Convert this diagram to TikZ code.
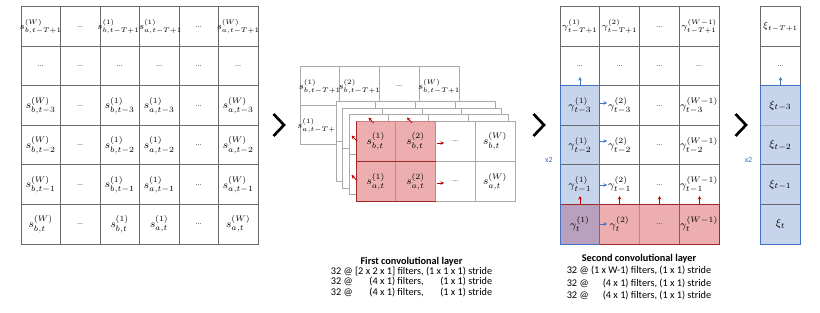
\documentclass[tikz,border=0pt]{standalone}
\usepackage[no-math]{fontspec}
\setmainfont{Carlito}
\usetikzlibrary{arrows.meta}

\definecolor{gridline}{RGB}{105,105,105}
\definecolor{sheetgray}{RGB}{170,170,170}
\definecolor{dotgray}{RGB}{90,90,90}
\definecolor{pinkfill}{RGB}{236,174,174}
\definecolor{pinkline}{RGB}{205,130,130}
\definecolor{darkred}{RGB}{160,40,40}
\definecolor{arrowred}{RGB}{192,0,0}
\definecolor{bluefill}{RGB}{198,212,236}
\definecolor{blueline}{RGB}{68,114,196}
\definecolor{purplefill}{RGB}{184,160,190}

\tikzset{every picture/.style={line width=0.75pt}}
\tikzset{
  cellmath/.style={inner sep=0.75pt, font=\fontsize{8.5}{9.5}\selectfont},
  celllong/.style={inner sep=0pt, font=\fontsize{7.2}{8}\selectfont},
  celldots/.style={inner sep=0.75pt, font=\fontsize{6}{7}\selectfont, text=dotgray},
  redtip/.style={draw=arrowred, line width=0.6pt, -{Stealth[length=2.6pt,width=2.6pt]}},
  bluetip/.style={draw=blueline, line width=0.6pt, -{Stealth[length=2.6pt,width=2.6pt]}},
  chevron/.style={line width=2pt, miter limit=10},
  repeatlabel/.style={inner sep=0.75pt, font=\fontsize{6}{7}\selectfont, text=blueline},
}

\begin{document}
\begin{tikzpicture}[x=0.75pt,y=0.75pt,yscale=-1,xscale=1]
		\useasboundingbox (0,0) rectangle (820,313);
		
		%Shape: Grid [input]
		\draw [color=gridline] (21,7) rectangle (258,244) ;
		\draw [color=gridline] (60.5,7) -- (60.5,244) (100,7) -- (100,244) (139.5,7) -- (139.5,244) (179,7) -- (179,244) (218.5,7) -- (218.5,244) ;
		\draw [color=gridline] (21,46.5) -- (258,46.5) (21,86) -- (258,86) (21,125.5) -- (258,125.5) (21,165) -- (258,165) (21,204.5) -- (258,204.5) ;
		
		% Text Node
		\draw (40.75,26.75) node [celllong] (in11) {$s_{b,t-T+1}^{(W)}$};
		\draw (80.25,26.75) node [celldots] (in12) {…};
		\draw (118.5,26.75) node [celllong] (in13) {$s_{b,t-T+1}^{(1)}$};
		\draw (160.5,26.75) node [celllong] (in14) {$s_{a,t-T+1}^{(1)}$};
		\draw (198.75,26.75) node [celldots] (in15) {…};
		\draw (238.25,26.75) node [celllong] (in16) {$s_{a,t-T+1}^{(W)}$};
		% Text Node
		\draw (40.75,66.25) node [celldots] (in21) {…};
		\draw (80.25,66.25) node [celldots] (in22) {…};
		\draw (119.75,66.25) node [celldots] (in23) {…};
		\draw (159.25,66.25) node [celldots] (in24) {…};
		\draw (198.75,66.25) node [celldots] (in25) {…};
		\draw (238.25,66.25) node [celldots] (in26) {…};
		% Text Node
		\draw (40.75,105.75) node [cellmath] (in31) {$s_{b,t-3}^{(W)}$};
		\draw (80.25,105.75) node [celldots] (in32) {…};
		\draw (119.75,105.75) node [cellmath] (in33) {$s_{b,t-3}^{(1)}$};
		\draw (159.25,105.75) node [cellmath] (in34) {$s_{a,t-3}^{(1)}$};
		\draw (198.75,105.75) node [celldots] (in35) {…};
		\draw (238.25,105.75) node [cellmath] (in36) {$s_{a,t-3}^{(W)}$};
		% Text Node
		\draw (40.75,145.25) node [cellmath] (in41) {$s_{b,t-2}^{(W)}$};
		\draw (80.25,145.25) node [celldots] (in42) {…};
		\draw (119.75,145.25) node [cellmath] (in43) {$s_{b,t-2}^{(1)}$};
		\draw (159.25,145.25) node [cellmath] (in44) {$s_{a,t-2}^{(1)}$};
		\draw (198.75,145.25) node [celldots] (in45) {…};
		\draw (238.25,145.25) node [cellmath] (in46) {$s_{a,t-2}^{(W)}$};
		% Text Node
		\draw (40.75,184.75) node [cellmath] (in51) {$s_{b,t-1}^{(W)}$};
		\draw (80.25,184.75) node [celldots] (in52) {…};
		\draw (119.75,184.75) node [cellmath] (in53) {$s_{b,t-1}^{(1)}$};
		\draw (159.25,184.75) node [cellmath] (in54) {$s_{a,t-1}^{(1)}$};
		\draw (198.75,184.75) node [celldots] (in55) {…};
		\draw (238.25,184.75) node [cellmath] (in56) {$s_{a,t-1}^{(W)}$};
		% Text Node
		\draw (40.75,224.25) node [cellmath] (in61) {$s_{b,t}^{(W)}$};
		\draw (80.25,224.25) node [celldots] (in62) {…};
		\draw (119.75,224.25) node [cellmath] (in63) {$s_{b,t}^{(1)}$};
		\draw (159.25,224.25) node [cellmath] (in64) {$s_{a,t}^{(1)}$};
		\draw (198.75,224.25) node [celldots] (in65) {…};
		\draw (238.25,224.25) node [cellmath] (in66) {$s_{a,t}^{(W)}$};
		
		%Shape: Chevron
		\draw [chevron] (273.5,114) -- (284,125) -- (273.5,136) ;
		
		%Shape: Rectangle [back sheet]
		\draw [color=sheetgray, fill=white] (300,67) rectangle (459,145) ;
		\draw [color=sheetgray] (339.75,67) -- (339.75,145) (379.5,67) -- (379.5,145) (419.25,67) -- (419.25,145) (300,106) -- (459,106) ;
		% Text Node
		\draw (319.9,86.5) node [celllong] (bk11) {$s_{b,t-T+1}^{(1)}$};
		\draw (359.6,86.5) node [celllong] (bk12) {$s_{b,t-T+1}^{(2)}$};
		\draw (399.4,86.5) node [celldots] (bk13) {…};
		\draw (439.1,86.5) node [celllong] (bk14) {$s_{b,t-T+1}^{(W)}$};
		\draw (318.9,125.5) node [celllong] (bk21) {$s_{a,t-T+1}^{(1)}$};
		
		%Shape: Rectangle [middle sheets]
		\draw [color=sheetgray, fill=white] (336,102) rectangle (495,182) ;
		\draw [color=sheetgray] (375.75,102) -- (375.75,182) (415.5,102) -- (415.5,182) (455.25,102) -- (455.25,182) (336,142) -- (495,142) ;
		\draw [color=sheetgray, fill=white] (342.5,108.5) rectangle (501.5,188.5) ;
		\draw [color=sheetgray] (382.25,108.5) -- (382.25,188.5) (422,108.5) -- (422,188.5) (461.75,108.5) -- (461.75,188.5) (342.5,148.5) -- (501.5,148.5) ;
		\draw [color=sheetgray, fill=white] (349,115) rectangle (508,195) ;
		\draw [color=sheetgray] (388.75,115) -- (388.75,195) (428.5,115) -- (428.5,195) (468.25,115) -- (468.25,195) (349,155) -- (508,155) ;
		
		%Shape: Rectangle [front sheet]
		\draw [color=sheetgray, fill=white] (356,121.5) rectangle (515,201.5) ;
		\draw [color=sheetgray] (475.25,121.5) -- (475.25,201.5) (435.5,161.5) -- (515,161.5) ;
		\draw [color=pinkline, fill=pinkfill] (356,121.5) rectangle (435.5,201.5) ;
		\draw [color=pinkline] (395.75,121.5) -- (395.75,201.5) ;
		\draw [color=darkred] (435.5,201.5) -- (356,201.5) -- (356,121.5) (356,161.5) -- (435.5,161.5) ;
		% Text Node
		\draw (375.9,141.5) node [cellmath] (fr11) {$s_{b,t}^{(1)}$};
		\draw (415.6,141.5) node [cellmath] (fr12) {$s_{b,t}^{(2)}$};
		\draw (455.4,141.5) node [celldots] (fr13) {…};
		\draw (495.1,141.5) node [cellmath] (fr14) {$s_{b,t}^{(W)}$};
		\draw (375.9,181.5) node [cellmath] (fr21) {$s_{a,t}^{(1)}$};
		\draw (415.6,181.5) node [cellmath] (fr22) {$s_{a,t}^{(2)}$};
		\draw (455.4,181.5) node [celldots] (fr23) {…};
		\draw (495.1,181.5) node [cellmath] (fr24) {$s_{a,t}^{(W)}$};
		
		%Straight Lines [filter moves]
		\draw [redtip] (373.5,123) -- (368.5,117.5) ;
		\draw [redtip] (412,123) -- (407,117.5) ;
		\draw [redtip] (357,141) -- (351.5,135.5) ;
		\draw [redtip] (357,180.5) -- (351.5,175) ;
		\draw [redtip] (437,143) -- (444,143) ;
		\draw [redtip] (437,183) -- (444,183) ;
		
		% Text Node
		\draw (411.5,264.3) node [anchor=base, inner sep=0pt, font=\fontsize{7.7}{7}\selectfont] (conv1) {\begin{tabular}[t]{@{}l@{\ }r@{\ }r@{}}
			\multicolumn{3}{c}{\textbf{First convolutional layer}}\\
			32 @ & [2 x 2 x 1] filters, & (1 x 1 x 1) stride\\
			32 @ & (4 x 1) filters, & (1 x 1) stride\\
			32 @ & (4 x 1) filters, & (1 x 1) stride
		\end{tabular}};
		
		%Shape: Chevron
		\draw [chevron] (533.5,114) -- (544,125) -- (533.5,136) ;
		
		%Shape: Rectangle [second layer fills]
		\draw [draw opacity=0, fill=pinkfill] (599.75,204.5) rectangle (719,244) ;
		\draw [draw opacity=0, fill=bluefill] (560,86) rectangle (599.75,204.5) ;
		\draw [draw opacity=0, fill=purplefill] (560,204.5) rectangle (599.75,244) ;
		%Shape: Grid [second layer]
		\draw [color=gridline] (560,7) rectangle (719,204.5) ;
		\draw [color=gridline] (599.75,7) -- (599.75,204.5) (639.5,7) -- (639.5,204.5) (679.25,7) -- (679.25,204.5) ;
		\draw [color=gridline] (560,46.5) -- (719,46.5) (560,86) -- (719,86) (560,125.5) -- (719,125.5) (560,165) -- (719,165) ;
		\draw [color=pinkline] (639.5,204.5) -- (639.5,244) ;
		\draw [color=gridline] (679.25,204.5) -- (679.25,244) ;
		\draw [color=darkred] (560,204.5) rectangle (719,244) ;
		\draw [color=blueline] (560,86) rectangle (599.75,244) ;
		% Text Node
		\draw (579.9,26.75) node [celllong] (ga11) {$\gamma_{t-T+1}^{(1)}$};
		\draw (619.6,26.75) node [celllong] (ga12) {$\gamma_{t-T+1}^{(2)}$};
		\draw (659.4,26.75) node [celldots] (ga13) {…};
		\draw (699.1,26.75) node [celllong] (ga14) {$\gamma_{t-T+1}^{(W-1)}$};
		\draw (579.9,66.25) node [celldots] (ga21) {…};
		\draw (619.6,66.25) node [celldots] (ga22) {…};
		\draw (659.4,66.25) node [celldots] (ga23) {…};
		\draw (699.1,66.25) node [celldots] (ga24) {…};
		\draw (579.9,105.75) node [cellmath] (ga31) {$\gamma_{t-3}^{(1)}$};
		\draw (619.6,105.75) node [cellmath] (ga32) {$\gamma_{t-3}^{(2)}$};
		\draw (659.4,105.75) node [celldots] (ga33) {…};
		\draw (699.1,105.75) node [cellmath] (ga34) {$\gamma_{t-3}^{(W-1)}$};
		\draw (579.9,145.25) node [cellmath] (ga41) {$\gamma_{t-2}^{(1)}$};
		\draw (619.6,145.25) node [cellmath] (ga42) {$\gamma_{t-2}^{(2)}$};
		\draw (659.4,145.25) node [celldots] (ga43) {…};
		\draw (699.1,145.25) node [cellmath] (ga44) {$\gamma_{t-2}^{(W-1)}$};
		\draw (579.9,184.75) node [cellmath] (ga51) {$\gamma_{t-1}^{(1)}$};
		\draw (619.6,184.75) node [cellmath] (ga52) {$\gamma_{t-1}^{(2)}$};
		\draw (659.4,184.75) node [celldots] (ga53) {…};
		\draw (699.1,184.75) node [cellmath] (ga54) {$\gamma_{t-1}^{(W-1)}$};
		\draw (579.9,224.25) node [cellmath] (ga61) {$\gamma_{t}^{(1)}$};
		\draw (619.6,224.25) node [cellmath] (ga62) {$\gamma_{t}^{(2)}$};
		\draw (659.4,224.25) node [celldots] (ga63) {…};
		\draw (699.1,224.25) node [cellmath] (ga64) {$\gamma_{t}^{(W-1)}$};
		
		%Straight Lines [second layer moves]
		\draw [bluetip] (580,85) -- (580,77) ;
		\draw [bluetip] (600,103) -- (607,103) ;
		\draw [bluetip] (600,141) -- (607,141) ;
		\draw [bluetip] (600,185) -- (607,185) ;
		\draw [bluetip] (600,224) -- (607,224) ;
		\draw [redtip] (580,204) -- (580,196) ;
		\draw [redtip] (619.5,204) -- (619.5,196) ;
		\draw [redtip] (659.5,204) -- (659.5,196) ;
		\draw [redtip] (699.5,204) -- (699.5,196) ;
		% Text Node
		\draw (549,160) node [repeatlabel] (rep1) {x2};
		
		% Text Node
		\draw (639,261) node [anchor=base, inner sep=0pt, font=\fontsize{7.7}{9.5}\selectfont] (conv2) {\begin{tabular}[t]{@{}l@{\ }r@{\ }r@{}}
			\multicolumn{3}{c}{\textbf{Second convolutional layer}}\\
			32 @ & (1 x W-1) filters, & (1 x 1) stride\\
			32 @ & (4 x 1) filters, & (1 x 1) stride\\
			32 @ & (4 x 1) filters, & (1 x 1) stride
		\end{tabular}};
		
		%Shape: Chevron
		\draw [chevron] (735.5,114) -- (746,125) -- (735.5,136) ;
		
		%Shape: Rectangle [output column]
		\draw [draw opacity=0, fill=bluefill] (760.5,86) rectangle (800.5,244) ;
		\draw [color=gridline] (760.5,7) rectangle (800.5,86) (760.5,46.5) -- (800.5,46.5) ;
		\draw [color=sheetgray] (760.5,125.5) -- (800.5,125.5) ;
		\draw [color=gridline] (760.5,165) -- (800.5,165) (760.5,204.5) -- (800.5,204.5) ;
		\draw [color=blueline] (760.5,86) rectangle (800.5,244) ;
		% Text Node
		\draw (780.5,26.75) node [celllong] (xi1) {$\xi_{t-T+1}$};
		\draw (780.5,66.25) node [celldots] (xi2) {…};
		\draw (780.5,105.75) node [cellmath] (xi3) {$\xi_{t-3}$};
		\draw (780.5,145.25) node [cellmath] (xi4) {$\xi_{t-2}$};
		\draw (780.5,184.75) node [cellmath] (xi5) {$\xi_{t-1}$};
		\draw (780.5,224.25) node [cellmath] (xi6) {$\xi_{t}$};
		%Straight Lines
		\draw [bluetip] (780.5,85) -- (780.5,77) ;
		% Text Node
		\draw (748.5,160) node [repeatlabel] (rep2) {x2};
\end{tikzpicture}
\end{document}
